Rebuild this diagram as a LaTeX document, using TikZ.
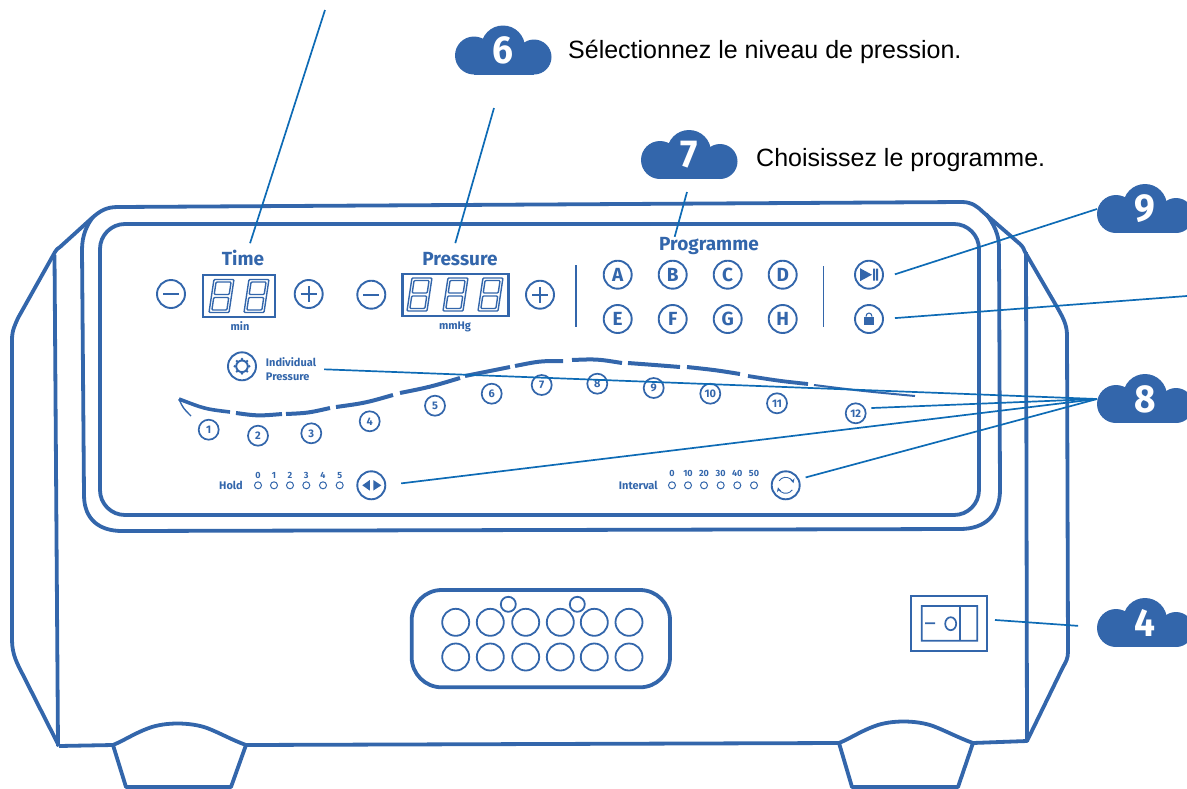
\documentclass[tikz,border=0pt]{standalone}
\usepackage{fontspec}
\setmainfont{Liberation Sans}
\newfontfamily\panelfont{Fira Sans}
\newfontfamily\cloudfont[FakeStretch=0.95]{Fira Sans}
\usetikzlibrary{arrows.meta,calc,positioning}
\definecolor{devblue}{HTML}{3366AB}
\definecolor{leadblue}{HTML}{0E6BB5}
\tikzset{
  shell/.style={draw=devblue,line width=3.8pt,line join=round},
  leader/.style={draw=leadblue,line width=1.7pt},
  roundkey/.style={circle,draw=devblue,line width=1.9pt,minimum size=28pt,inner sep=0pt,outer sep=0pt,text=devblue,font=\panelfont\bfseries\fontsize{19}{19}\selectfont},
  stepkey/.style={circle,draw=devblue,line width=1.7pt,minimum size=20pt,inner sep=0pt,outer sep=0pt,text=devblue,font=\panelfont\bfseries\fontsize{11}{11}\selectfont},
  lamp/.style={circle,draw=devblue,line width=1pt,minimum size=7pt,inner sep=0pt},
  lamptext/.style={text=devblue,font=\panelfont\bfseries\fontsize{9}{9}\selectfont,inner sep=0pt},
  paneltext/.style={text=devblue,font=\panelfont\bfseries\fontsize{11}{14}\selectfont,inner sep=0pt},
  headtext/.style={text=devblue,font=\panelfont\bfseries\fontsize{19}{19}\selectfont,inner sep=0pt,text height=13pt,text depth=5pt},
  hint/.style={text=black,font=\fontsize{25}{25}\selectfont,inner sep=0pt,anchor=west},
  cloudmark/.style={minimum width=96pt,minimum height=49pt,inner sep=0pt,outer sep=0pt,text=white,font=\cloudfont\bfseries\fontsize{39}{39}\selectfont},
  socket/.style={circle,draw=devblue,line width=1.8pt,minimum size=27pt,inner sep=0pt},
  pics/bluecloud/.style={code={
    \fill[devblue] (-29,5) circle (19);
    \fill[devblue] (0,-3) circle (22);
    \fill[devblue] (31,6.5) circle (17.5);
    \fill[devblue] (-29,-4) rectangle (31,24);
  }},
  pics/segdigit/.style={code={
    \draw[devblue,line width=1.4pt,xslant=0.15,rounded corners=1pt] (0,0) rectangle (20,-33) (2.5,-2.5) rectangle (17.5,-15) (2.5,-18) rectangle (17.5,-30.5);
  }},
}

\begin{document}
\begin{tikzpicture}[x=1pt,y=-1pt]
  \useasboundingbox (0,0) rectangle (1187,788);

  % Housing
  \draw[shell] (59,746) -- (22,673) .. controls (18,665) and (12,655) .. (12,640) -- (12,340)
    .. controls (12,330) and (15,325) .. (18,318) -- (55,252) .. controls (56,250) and (58,248) .. (60,247)
    -- (92,218) .. controls (100,211) and (106,207) .. (118,207) -- (962,202)
    .. controls (972,202) and (978,207) .. (983,212) -- (1020,244) .. controls (1023,247) and (1024,249) .. (1025,252)
    -- (1057,307) .. controls (1062,316) and (1067,324) .. (1067,335) -- (1068,652)
    .. controls (1068,658) and (1066,662) .. (1063,667) -- (1027,741) -- (973,743);
  \draw[shell] (113,745) -- (59,746) (246,745) -- (839,743);
  \draw[shell] (54.5,255) -- (58,746) (1026,252) -- (1027,741);
  \foreach \lx/\ly/\rx in {113/745/246,839/743/973} {
    \draw[shell] (\lx,\ly) .. controls (\lx+12,\ly-5) and (\lx+22,\ly-12) .. (\lx+36,\ly-17)
      .. controls (\lx+52,\ly-23) and (\lx+77,\ly-23) .. (\lx+94,\ly-17)
      .. controls (\lx+107,\ly-12) and (\rx-14,\ly-5) .. (\rx,\ly)
      -- (\rx-15,787) -- (\lx+13,787) -- cycle;
  }
  % Panel frames
  \draw[shell] (93,217) .. controls (87,225) and (82,235) .. (82,250) -- (84,495)
    .. controls (84,520) and (100,531) .. (122,531) -- (960,529)
    .. controls (985,529) and (1000,515) .. (1000,490) -- (999,247) .. controls (999,235) and (994,224) .. (986,214);
  \draw[shell,rounded corners=25pt] (100,224) rectangle (979,515);

  % Time and pressure
  \node[headtext] (timehead) at (243,261) {Time};
  \node[roundkey] (timeminus) at (171,294) {};
  \node[roundkey] (timeplus) at (308.7,294) {};
  \node[draw=devblue,line width=2.2pt,minimum width=72pt,minimum height=42pt,inner sep=0pt] (timebox) at (239.3,296) {};
  \pic at (209,312.5) {segdigit};
  \pic at (244,312.5) {segdigit};
  \node[paneltext] (timeunit) at (240,326.5) {min};
  \node[headtext] (presshead) at (460,261) {Pressure};
  \node[roundkey] (pressminus) at (371.3,294.7) {};
  \node[roundkey] (pressplus) at (540,294.7) {};
  \node[draw=devblue,line width=2.2pt,minimum width=106pt,minimum height=42pt,inner sep=0pt] (pressbox) at (455.5,295) {};
  \foreach \x in {407,443,478} \pic at (\x,311) {segdigit};
  \node[paneltext] (pressunit) at (455,327) {mmHg};
  \foreach \k in {timeminus,timeplus,pressminus,pressplus} \draw[devblue,line width=1.9pt] ([xshift=-8pt]\k.center) -- ([xshift=8pt]\k.center);
  \foreach \k in {timeplus,pressplus} \draw[devblue,line width=1.9pt] ([yshift=-8pt]\k.center) -- ([yshift=8pt]\k.center);

  % Programme keys
  \node[headtext] (proghead) at (709,246) {Programme};
  \draw[devblue,line width=1.2pt] (576,265) -- (576,327) (823.3,266) -- (823.3,327);
  \foreach \n/\x/\y in {A/617.7/274.7,B/672.7/274.7,C/727.7/274.7,D/782.7/274.7,E/617.7/319,F/672.7/319,G/727.7/319,H/782.7/319}
    \node[roundkey] (key\n) at (\x,\y) {\n};
  \node[roundkey] (playkey) at (869,274.7) {};
  \node[roundkey] (lockkey) at (869,319) {};
  \fill[devblue,shift={(playkey.center)}] (-9,-6.5) -- (3,0) -- (-9,6.5) -- cycle (4,-6) rectangle (6,6) (7,-6) rectangle (9,6);
  \fill[devblue,shift={(lockkey.center)}] (-5,-2.5) rectangle (5,6);
  \draw[devblue,line width=1.1pt,shift={(lockkey.center)}] (-3,-2.5) arc (180:360:3 and 3.5);

  % Individual pressure
  \node[roundkey] (gearkey) at (242,366.3) {};
  \draw[devblue,line width=1.9pt,shift={(gearkey.center)}] (0,0) circle (5.8);
  \foreach \a in {0,45,...,315} \fill[devblue,shift={(gearkey.center)}] (\a:7.2) circle (1.4);
  \node[paneltext,align=left] (gearlabel) at (291,369) {Individual\\Pressure};

  % Pressure wave
  \draw[devblue,line width=1.4pt] (179,399) .. controls (183,408) .. (191,416);
  \foreach \ax/\ay/\bx/\by/\cx/\cy/\w in {179/399/205/409/230/412/3.6,236/413/258/416/282/414/4,286/414/308/413/330/408/4,
    336/407/365/403/393/395/4,400/393/430/387/460/378/4,465/376/488/371/510/367/4,515/366/540/361/563/361/4,
    572/360/597/359/622/363/4,628/363/655/365/680/367/4,687/367/715/370/740/374/4,748/376/780/381/808/384/3.8,814/385/862/391/915/396/2}
    \draw[devblue,line width=\w pt] (\ax,\ay) .. controls (\bx,\by) .. (\cx,\cy);
  \foreach \n/\x/\y in {1/208.7/429.7,2/258/435.7,3/311.3/433.3,4/369.7/421.3,5/435/405.7,6/491.7/393.7,7/541.7/385,8/597.3/383.7,9/653.7/388,10/710.3/393.7,11/777/403.3,12/855.7/413.3}
    \node[stepkey] (stepn\n) at (\x,\y) {\n};

  % Hold and interval
  \node[paneltext] (holdlabel) at (231,485) {Hold};
  \foreach \n/\x in {0/258,1/274,2/290,3/306.3,4/323,5/339.7} {
    \node[lamp] (hold\n) at (\x,485.3) {};
    \node[lamptext] (holdtext\n) at (\x,475.5) {\n};
  }
  \node[roundkey] (holdkey) at (371.3,485.3) {};
  \fill[devblue,shift={(holdkey.center)}] (-1.5,-5.3) -- (-9,0) -- (-1.5,5.3) -- cycle (2,-5.3) -- (10,0) -- (2,5.3) -- cycle;
  \node[paneltext] (intervallabel) at (638.3,485) {Interval};
  \foreach \n/\x in {0/672,10/688,20/704,30/720.7,40/737.3,50/754} {
    \node[lamp] (inter\n) at (\x,485.3) {};
    \node[lamptext] (intertext\n) at (\x,473.5) {\n};
  }
  \node[roundkey] (interkey) at (785.7,485.3) {};
  \draw[devblue,line width=.9pt,shift={(interkey.center)},-{Stealth[length=4.5pt,width=4.5pt]}] (215:8) arc (215:345:8);
  \draw[devblue,line width=.9pt,shift={(interkey.center)},-{Stealth[length=4.5pt,width=4.5pt]}] (35:8) arc (35:165:8);

  % Connector plate
  \draw[shell,rounded corners=30pt] (411.7,590) rectangle (670,687.3);
  \foreach \x [count=\i] in {455.7,490.3,525.7,560.3,594.3,629} {
    \node[socket] (socketa\i) at (\x,622.3) {};
    \node[socket] (socketb\i) at (\x,657) {};
  }
  \node[circle,draw=devblue,line width=1.8pt,minimum size=15pt,inner sep=0pt] (pina) at (508.3,604.3) {};
  \node[circle,draw=devblue,line width=1.8pt,minimum size=15pt,inner sep=0pt] (pinb) at (577.3,604.3) {};

  % Mains switch
  \node[draw=devblue,line width=2.8pt,minimum width=76pt,minimum height=55pt,inner sep=0pt,outer sep=0pt] (switchbox) at (949,623.4) {};
  \draw[devblue,line width=1.7pt] (921.7,606) rectangle (977.3,640.7) (960,606) -- (960,640.7) (925,623.3) -- (935,623.3) (950.7,623.7) ellipse (5.5 and 6.5);

  % Clouds with hints
  \foreach \c/\d/\x/\y in {cloudsix/6/503/50.5,cloudseven/7/689/155,cloudnine/9/1145/209,cloudeight/8/1145/399,cloudfour/4/1145/623} {
    \pic at (\x,\y) {bluecloud};
    \node[cloudmark] (\c) at (\x,\y) {\raisebox{-3pt}{\d}};
  }
  \node[hint] (sixhint) at (568,52) {Sélectionnez le niveau de pression.};
  \node[hint] (sevenhint) at (756,160) {Choisissez le programme.};

  % Leaders
  \coordinate (timetop) at (325,10);
  \coordinate (presstop) at (494,108);
  \coordinate (progtop) at (687,192);
  \coordinate (lockend) at (1187,296);
  \draw[leader,shorten >=9pt] (timetop) -- (timehead.65);
  \draw[leader,shorten >=9pt] (presstop) -- (presshead.128);
  \draw[leader] (progtop) -- (proghead.165.6);
  \draw[leader,shorten >=13pt] (cloudnine.west) -- (playkey.-15);
  \draw[leader,shorten >=12pt] (lockend) -- (lockkey.east);
  \draw[leader,shorten >=8pt] (cloudeight.west) -- (gearlabel.east);
  \draw[leader,shorten >=7pt] (cloudeight.west) -- (stepn12.30);
  \draw[leader,shorten >=16pt] (cloudeight.west) -- (holdkey.east);
  \draw[leader,shorten >=7.5pt] (cloudeight.west) -- (interkey.25);
  \draw[leader,shorten <=19pt,shorten >=8pt] (cloudfour.185) -- (switchbox.6);
\end{tikzpicture}
\end{document}
